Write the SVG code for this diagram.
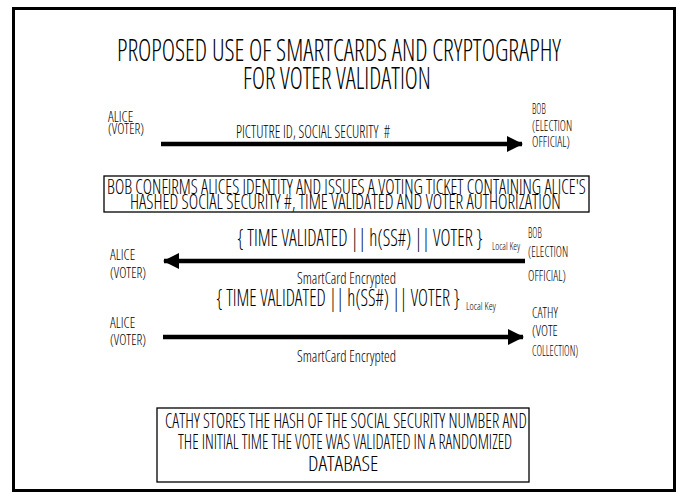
<svg xmlns="http://www.w3.org/2000/svg" width="678" height="493" viewBox="0 0 678 493">
<style>
text{font-family:"Open Sans","Liberation Sans Narrow","DejaVu Sans Condensed",sans-serif;font-weight:300;font-stretch:condensed;fill:#000;white-space:pre}
.t{font-size:31px}
.n{font-size:15px}
.b{font-size:21px}
.m{font-size:23px}
.k{font-size:11px}
.s{font-size:16px}
.l{font-size:18px}
.line{stroke:#000;stroke-width:4.5;fill:none}
.box{fill:#fff;stroke:#000;stroke-width:1.3}
</style>
<defs>
<marker id="ah" markerUnits="userSpaceOnUse" markerWidth="18" markerHeight="18" refX="15" refY="8" orient="auto">
<path d="M0,0 L16,8 L0,16 Z" fill="#000"/>
</marker>
</defs>
<rect x="0" y="0" width="678" height="493" fill="#fff"/>
<rect x="13.5" y="8.5" width="661" height="482" fill="#fff" stroke="#000" stroke-width="3"/>
<g id="title">
<text class="t" transform="translate(117,61) scale(0.6,1)" textLength="740" lengthAdjust="spacingAndGlyphs">PROPOSED USE OF SMARTCARDS AND CRYPTOGRAPHY</text>
<text class="t" transform="translate(243,89) scale(0.6,1)" textLength="313" lengthAdjust="spacingAndGlyphs">FOR VOTER VALIDATION</text>
</g>
<g id="alice1">
<text class="n" transform="translate(108,122) scale(0.6,1)" textLength="42" lengthAdjust="spacingAndGlyphs">ALICE</text>
<text class="n" transform="translate(108,134) scale(0.6,1)" textLength="60" lengthAdjust="spacingAndGlyphs">(VOTER)</text>
</g>
<g id="bob1">
<text class="n" transform="translate(532,114) scale(0.6,1)" textLength="23" lengthAdjust="spacingAndGlyphs">BOB</text>
<text class="n" transform="translate(532,131) scale(0.6,1)" textLength="67" lengthAdjust="spacingAndGlyphs">(ELECTION</text>
<text class="n" transform="translate(532,147) scale(0.6,1)" textLength="63" lengthAdjust="spacingAndGlyphs">OFFICIAL)</text>
</g>
<g id="note1">
<rect class="box" x="104" y="176" width="485" height="36"/>
<text class="b" transform="translate(107,194) scale(0.6,1)" textLength="798" lengthAdjust="spacingAndGlyphs">BOB CONFIRMS ALICES IDENTITY AND ISSUES A VOTING TICKET CONTAINING ALICE'S</text>
<text class="b" transform="translate(130,209) scale(0.6,1)" textLength="718" lengthAdjust="spacingAndGlyphs">HASHED SOCIAL SECURITY #, TIME VALIDATED AND VOTER AUTHORIZATION</text>
</g>
<g id="alice2">
<text class="n" transform="translate(110,260) scale(0.6,1)" textLength="42" lengthAdjust="spacingAndGlyphs">ALICE</text>
<text class="n" transform="translate(110,278) scale(0.6,1)" textLength="60" lengthAdjust="spacingAndGlyphs">(VOTER)</text>
</g>
<g id="bob2">
<text class="n" transform="translate(528,238) scale(0.6,1)" textLength="23" lengthAdjust="spacingAndGlyphs">BOB</text>
<text class="n" transform="translate(528,257) scale(0.6,1)" textLength="67" lengthAdjust="spacingAndGlyphs">(ELECTION</text>
<text class="n" transform="translate(528,281) scale(0.6,1)" textLength="63" lengthAdjust="spacingAndGlyphs">OFFICIAL)</text>
</g>
<g id="alice3">
<text class="n" transform="translate(110,328) scale(0.6,1)" textLength="42" lengthAdjust="spacingAndGlyphs">ALICE</text>
<text class="n" transform="translate(110,345) scale(0.6,1)" textLength="60" lengthAdjust="spacingAndGlyphs">(VOTER)</text>
</g>
<g id="cathy">
<text class="n" transform="translate(532,318) scale(0.6,1)" textLength="43" lengthAdjust="spacingAndGlyphs">CATHY</text>
<text class="n" transform="translate(532,336) scale(0.6,1)" textLength="43" lengthAdjust="spacingAndGlyphs">(VOTE</text>
<text class="n" transform="translate(532,356) scale(0.6,1)" textLength="77" lengthAdjust="spacingAndGlyphs">COLLECTION)</text>
</g>
<g id="note2">
<rect class="box" x="157" y="408" width="372" height="74"/>
<text class="b" transform="translate(165,428) scale(0.6,1)" textLength="603" lengthAdjust="spacingAndGlyphs">CATHY STORES THE HASH OF THE SOCIAL SECURITY NUMBER AND</text>
<text class="b" transform="translate(178,449) scale(0.6,1)" textLength="557" lengthAdjust="spacingAndGlyphs">THE INITIAL TIME THE VOTE WAS VALIDATED IN A RANDOMIZED</text>
<text class="b" transform="translate(308,471) scale(0.6,1)" textLength="117" lengthAdjust="spacingAndGlyphs">DATABASE</text>
</g>
<g id="connectors">
<line class="line" x1="161" y1="144" x2="522" y2="144" marker-end="url(#ah)"/>
<text class="l" transform="translate(236,138) scale(0.6,1)" textLength="257" lengthAdjust="spacingAndGlyphs">PICTUTRE ID, SOCIAL SECURITY  #</text>
<line class="line" x1="525" y1="261" x2="164" y2="261" marker-end="url(#ah)"/>
<text class="m" transform="translate(237,246) scale(0.6,1)" textLength="410" lengthAdjust="spacingAndGlyphs">{ TIME VALIDATED || h(SS#) || VOTER }</text>
<text class="k" transform="translate(492,250) scale(0.6,1)" textLength="47" lengthAdjust="spacingAndGlyphs">Local Key</text>
<text class="s" transform="translate(297,284) scale(0.6,1)" textLength="165" lengthAdjust="spacingAndGlyphs">SmartCard Encrypted</text>
<line class="line" x1="163" y1="337" x2="523" y2="337" marker-end="url(#ah)"/>
<text class="m" transform="translate(216,306) scale(0.6,1)" textLength="407" lengthAdjust="spacingAndGlyphs">{ TIME VALIDATED || h(SS#) || VOTER }</text>
<text class="k" transform="translate(466,310) scale(0.6,1)" textLength="50" lengthAdjust="spacingAndGlyphs">Local Key</text>
<text class="s" transform="translate(297,362) scale(0.6,1)" textLength="165" lengthAdjust="spacingAndGlyphs">SmartCard Encrypted</text>
</g>
</svg>
